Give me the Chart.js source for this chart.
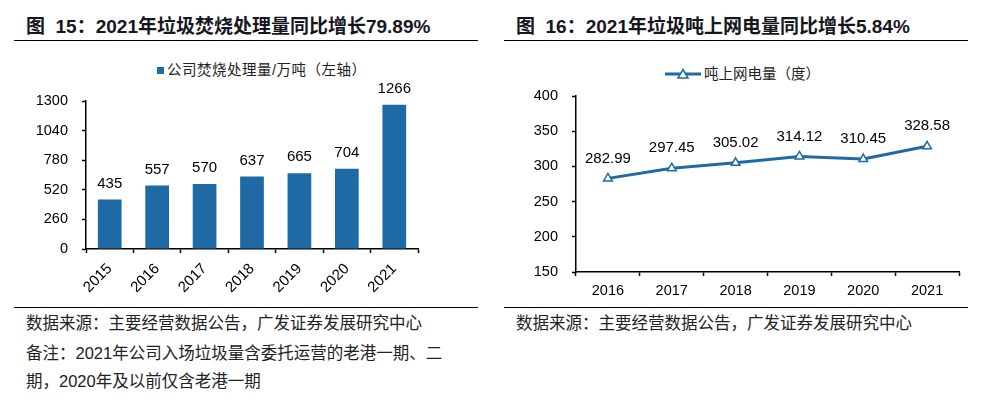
<!DOCTYPE html>
<html>
<head>
<meta charset="utf-8">
<script src="https://cdn.jsdelivr.net/npm/chart.js@4/dist/chart.umd.min.js"></script>
<style>
  body { margin: 0; background: #fff; }
  #page { position: relative; width: 984px; height: 406px; overflow: hidden; background: #fff;
          font-family: "Liberation Sans", "Noto Sans CJK SC", sans-serif; }
  .title { position: absolute; top: 16px; font-size: 19px; font-weight: bold; line-height: 22px;
           color: #16161f; white-space: pre; }
  .rule { position: absolute; height: 1px; background: #000; }
  .note { position: absolute; font-size: 16.5px; line-height: 20px; color: #222; white-space: pre; }
  .legend { position: absolute; font-size: 14.5px; line-height: 18px; color: #222; white-space: pre; }
  canvas { position: absolute; }
</style>
</head>
<body>
<div id="page">
  <div class="title" style="left:26px">图  15：2021年垃圾焚烧处理量同比增长79.89%</div>
  <div class="title" style="left:516px">图  16：2021年垃圾吨上网电量同比增长5.84%</div>
  <div class="rule" style="left:14px;top:40px;width:464px"></div>
  <div class="rule" style="left:504px;top:40px;width:464px"></div>

  <div class="legend" style="left:157px;top:61px;letter-spacing:0.5px"><span style="display:inline-block;width:7px;height:7px;background:#1f6aa5;margin-right:3px;vertical-align:1px"></span>公司焚烧处理量/万吨（左轴）</div>
  <svg style="position:absolute;left:664px;top:68px" width="38" height="12">
    <line x1="1" y1="6" x2="37" y2="6" stroke="#1f6aa5" stroke-width="3"/>
    <polygon points="19,1.5 24,10 14,10" fill="#fff" stroke="#1f6aa5" stroke-width="1.5"/>
  </svg>
  <div class="legend" style="left:704px;top:65px">吨上网电量（度）</div>

  <canvas id="barChart" width="464" height="256" style="left:14px;top:48px"></canvas>
  <canvas id="lineChart" width="464" height="256" style="left:504px;top:48px"></canvas>

  <div class="rule" style="left:14px;top:307px;width:464px"></div>
  <div class="rule" style="left:504px;top:307px;width:464px"></div>
  <div class="note" style="left:26px;top:313px">数据来源：主要经营数据公告，广发证券发展研究中心</div>
  <div class="note" style="left:26px;top:343px">备注：2021年公司入场垃圾量含委托运营的老港一期、二</div>
  <div class="note" style="left:26px;top:371px">期，2020年及以前仅含老港一期</div>
  <div class="note" style="left:516px;top:313px">数据来源：主要经营数据公告，广发证券发展研究中心</div>
</div>

<script>
// left chart: incineration volume (10k tonnes)
const barYears = ['2015', '2016', '2017', '2018', '2019', '2020', '2021']
const barValues = [435, 557, 570, 637, 665, 704, 1266]
const barTicks = [0, 260, 520, 780, 1040, 1300]

// right chart: on-grid power per tonne (kWh)
const lineYears = ['2016', '2017', '2018', '2019', '2020', '2021']
const lineValues = [282.99, 297.45, 305.02, 314.12, 310.45, 328.58]
const lineTicks = [150, 200, 250, 300, 350, 400]

const BLUE = '#1f6aa5'
const tickFont = { family: 'Liberation Sans', size: 14.5 }

// draws the value above each bar / point
const valueLabels = {
    id: 'valueLabels',
    afterDatasetsDraw(chart, args, opts) {
        const ctx = chart.ctx
        const meta = chart.getDatasetMeta(0)
        const values = chart.data.datasets[0].data
        ctx.save()
        ctx.font = '15px "Liberation Sans"'
        ctx.fillStyle = '#000'
        ctx.textAlign = 'center'
        ctx.textBaseline = 'middle'
        meta.data.forEach((el, i) => {
            ctx.fillText(opts.format(values[i]), el.x, el.y - opts.offset)
        })
        ctx.restore()
    }
}

function axisY(ticks, width) {
    return {
        min: ticks[0],
        max: ticks[ticks.length - 1],
        afterBuildTicks: scale => { scale.ticks = ticks.map(v => ({ value: v })) },
        afterFit: scale => { scale.width = width },
        border: { display: true, color: '#000', width: 1.5 },
        grid: { drawOnChartArea: false, drawTicks: true, tickLength: 4, tickColor: '#000', tickWidth: 1.5 },
        ticks: { font: tickFont, color: '#000', padding: 14, callback: v => String(v) }
    }
}

new Chart(document.getElementById('barChart'), {
    type: 'bar',
    data: {
        labels: barYears,
        datasets: [{
            label: '公司焚烧处理量/万吨（左轴）',
            data: barValues,
            backgroundColor: BLUE,
            barPercentage: 0.5,
            categoryPercentage: 1.0
        }]
    },
    options: {
        responsive: false,
        animation: false,
        layout: { padding: { top: 53, right: 60, left: 0, bottom: 0 } },
        plugins: {
            legend: { display: false },
            tooltip: { enabled: false },
            valueLabels: { offset: 16, format: v => String(v) }
        },
        scales: {
            x: {
                afterFit: scale => { scale.height = 55 },
                border: { display: true, color: '#000', width: 1.5 },
                grid: { offset: true, drawOnChartArea: false, drawTicks: true, tickLength: 4, tickColor: '#000', tickWidth: 1.5 },
                ticks: { font: { family: 'Liberation Sans', size: 15 }, color: '#000', minRotation: 45, maxRotation: 45, padding: 7 }
            },
            y: axisY(barTicks, 72)
        }
    },
    plugins: [valueLabels]
})

new Chart(document.getElementById('lineChart'), {
    type: 'line',
    data: {
        labels: lineYears,
        datasets: [{
            label: '吨上网电量（度）',
            data: lineValues,
            borderColor: BLUE,
            borderWidth: 3,
            tension: 0,
            pointStyle: 'triangle',
            pointRadius: 5,
            pointBackgroundColor: '#fff',
            pointBorderColor: BLUE,
            pointBorderWidth: 1.5
        }]
    },
    options: {
        responsive: false,
        animation: false,
        layout: { padding: { top: 48, right: 9, left: 0, bottom: 0 } },
        plugins: {
            legend: { display: false },
            tooltip: { enabled: false },
            valueLabels: { offset: 20, format: v => v.toFixed(2) }
        },
        scales: {
            x: {
                offset: true,
                afterFit: scale => { scale.height = 32 },
                border: { display: true, color: '#000', width: 1.5 },
                grid: { offset: true, drawOnChartArea: false, drawTicks: true, tickLength: 4, tickColor: '#000', tickWidth: 1.5 },
                ticks: { font: tickFont, color: '#000', padding: 6 }
            },
            y: axisY(lineTicks, 72)
        }
    },
    plugins: [valueLabels]
})
</script>
</body>
</html>
